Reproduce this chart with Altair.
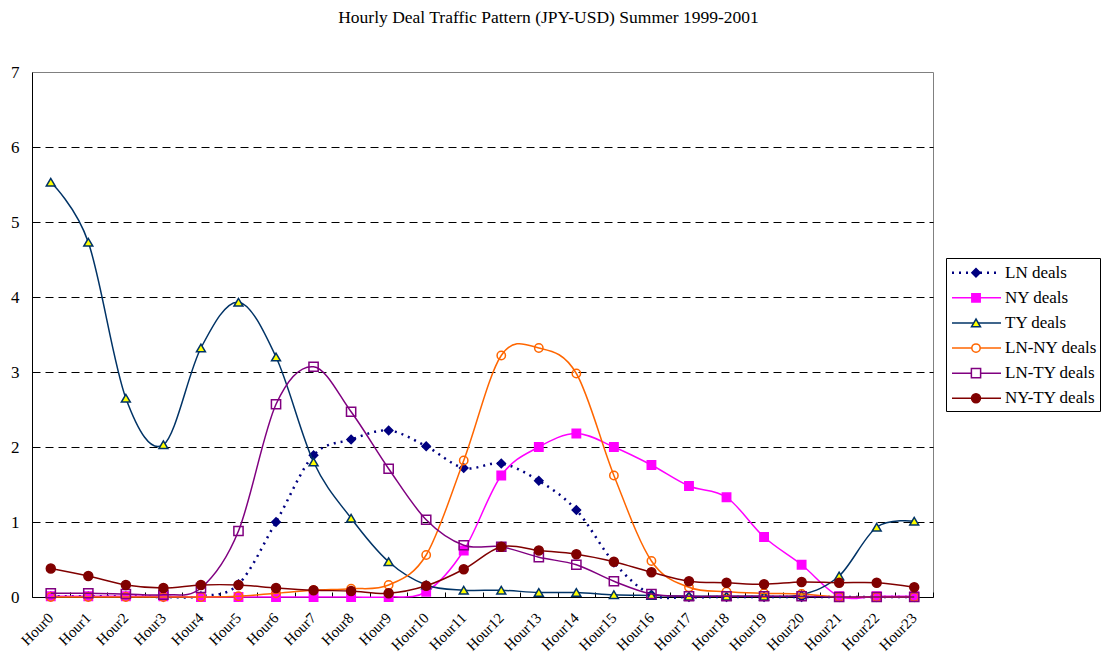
import altair as alt
import pandas as pd

hours = [f"Hour{i}" for i in range(24)]

ln_deals = [0.01, 0.01, 0.01, 0.0, 0.01, 0.17, 1.0, 1.89, 2.1, 2.22, 2.01, 1.72,
            1.78, 1.55, 1.16, 0.46, 0.03, 0.0, 0.0, 0.0, 0.0, 0.0, 0.0, 0.0]
ny_deals = [0.01, 0.01, 0.01, 0.01, 0.0, 0.0, 0.0, 0.0, 0.0, 0.0, 0.07, 0.62,
            1.62, 2.0, 2.18, 2.0, 1.76, 1.48, 1.33, 0.8, 0.43, 0.01, 0.01, 0.01]
ty_deals = [5.53, 4.73, 2.65, 2.03, 3.32, 3.93, 3.2, 1.8, 1.05, 0.47, 0.16, 0.09,
            0.09, 0.06, 0.06, 0.03, 0.02, 0.01, 0.01, 0.01, 0.03, 0.28, 0.93, 1.01]
ln_ny_deals = [0.0, 0.0, 0.0, 0.0, 0.0, 0.01, 0.05, 0.09, 0.11, 0.16, 0.56, 1.82,
               3.22, 3.32, 2.98, 1.62, 0.48, 0.13, 0.07, 0.05, 0.04, 0.0, 0.0, 0.0]
ln_ty_deals = [0.05, 0.05, 0.04, 0.03, 0.12, 0.88, 2.57, 3.07, 2.47, 1.71, 1.03, 0.69,
               0.67, 0.53, 0.43, 0.21, 0.04, 0.01, 0.01, 0.01, 0.01, 0.0, 0.0, 0.0]
ny_ty_deals = [0.38, 0.28, 0.16, 0.12, 0.16, 0.16, 0.12, 0.09, 0.08, 0.05, 0.15, 0.37,
               0.67, 0.62, 0.57, 0.47, 0.33, 0.21, 0.19, 0.17, 0.2, 0.19, 0.19, 0.13]

series_names = ["LN deals", "NY deals", "TY deals", "LN-NY deals", "LN-TY deals", "NY-TY deals"]
series_values = [ln_deals, ny_deals, ty_deals, ln_ny_deals, ln_ty_deals, ny_ty_deals]
y_ticks = [0, 1, 2, 3, 4, 5, 6, 7]
title_text = "Hourly Deal Traffic Pattern (JPY-USD) Summer 1999-2001"

# styles (kept apart from the data)
styles = [
    dict(line="#000080", dash=[2, 5], lw=2.5, shape="diamond", fill="#000080", stroke="#000080", size=70, filled=True),
    dict(line="#FF00FF", dash=None, lw=1.5, shape="square", fill="#FF00FF", stroke="#FF00FF", size=70, filled=True),
    dict(line="#003366", dash=None, lw=1.5, shape="triangle-up", fill="#FFFF00", stroke="#003366", size=80, filled=True),
    dict(line="#FF6600", dash=None, lw=1.5, shape="circle", fill=None, stroke="#FF6600", size=70, filled=False),
    dict(line="#800080", dash=None, lw=1.5, shape="square", fill=None, stroke="#800080", size=85, filled=False),
    dict(line="#800000", dash=None, lw=1.5, shape="circle", fill="#800000", stroke="#800000", size=80, filled=True),
]

FONT = "Liberation Serif"
W, H = 901, 525

rows = []
for name, vals in zip(series_names, series_values):
    for h, v in zip(hours, vals):
        rows.append({"hour": h, "series": name, "value": v})
df = pd.DataFrame(rows)

x_scale = alt.Scale(type="band", domain=hours, paddingInner=0, paddingOuter=0)
y_scale = alt.Scale(domain=[0, 7], nice=False, zero=True)

x_bottom = alt.X("hour:N", sort=hours, scale=x_scale,
                 axis=alt.Axis(orient="bottom", title=None, labelAngle=-45, labelAlign="right",
                               labelBaseline="middle", labelPadding=18, ticks=False, tickSize=0,
                               domainColor="black", domainWidth=1, labelFont=FONT,
                               labelFontSize=15, labelColor="black", grid=False))
y_left = alt.Y("value:Q", scale=y_scale,
               axis=alt.Axis(title=None, values=y_ticks, ticks=False, tickSize=0, labelPadding=13,
                             domainColor="black", domainWidth=1, labelFont=FONT, labelFontSize=17,
                             labelColor="black", grid=True, gridColor="black", gridDash=[8, 5],
                             gridWidth=1,
                             gridOpacity=alt.condition("datum.value > 0 && datum.value < 7",
                                                       alt.value(1), alt.value(0))))

series_layers = []
for name, st in zip(series_names, styles):
    sub = df[df["series"] == name]
    line_kw = dict(interpolate="cardinal", tension=0, color=st["line"], strokeWidth=st["lw"])
    if st["dash"]:
        line_kw["strokeDash"] = st["dash"]
    line = alt.Chart(sub).mark_line(**line_kw).encode(x=x_bottom, y=y_left)
    pt_kw = dict(shape=st["shape"], size=st["size"], stroke=st["stroke"], strokeWidth=1.5,
                 filled=st["filled"], opacity=1)
    if st["fill"]:
        pt_kw["fill"] = st["fill"]
        pt_kw["fillOpacity"] = 1
    pts = alt.Chart(sub).mark_point(**pt_kw).encode(x=x_bottom, y=y_left)
    series_layers += [line, pts]

series_chart = alt.layer(*series_layers)

# inward tick marks at category boundaries
x_top = alt.X("hour:N", sort=hours, scale=x_scale,
              axis=alt.Axis(orient="top", offset=-H, title=None, labels=False, domain=False,
                            ticks=True, tickSize=5, tickColor="black", tickWidth=1,
                            tickBand="extent", grid=False))
tick_layer = alt.Chart(df[df["series"] == series_names[0]]).mark_point(opacity=0).encode(
    x=x_top, y=y_left)

main = alt.layer(series_chart, tick_layer).resolve_axis(x="independent")

# legend
leg_df = pd.DataFrame({"row": list(range(len(series_names))), "label": series_names})
leg_y = alt.Y("row:Q", scale=alt.Scale(domain=[0, 5], range=[200.7, 326.3]), axis=None)

box = alt.Chart(pd.DataFrame({"a": [0]})).mark_rect(fill="white", stroke="black", strokeWidth=1).encode(
    x=alt.value(914.5), x2=alt.value(1068.5), y=alt.value(186.5), y2=alt.value(339.5))
leg_layers = [box]
for i, st in enumerate(styles):
    sub = leg_df[leg_df["row"] == i]
    rkw = dict(color=st["line"], strokeWidth=st["lw"])
    if st["dash"]:
        rkw["strokeDash"] = st["dash"]
    leg_layers.append(alt.Chart(sub).mark_rule(**rkw).encode(
        x=alt.value(920), x2=alt.value(969), y=leg_y))
    pt_kw = dict(shape=st["shape"], size=st["size"], stroke=st["stroke"], strokeWidth=1.5,
                 filled=True, opacity=1, fillOpacity=1, fill=st["fill"] or "white")
    leg_layers.append(alt.Chart(sub).mark_point(**pt_kw).encode(x=alt.value(944), y=leg_y))
leg_layers.append(alt.Chart(leg_df).mark_text(align="left", baseline="middle", font=FONT,
                                              fontSize=17, color="black").encode(
    x=alt.value(973), y=leg_y, text="label:N"))
legend = alt.layer(*leg_layers)

chart = alt.layer(main, legend).resolve_scale(y="independent").properties(
    width=W, height=H,
    autosize=alt.AutoSizeParams(type="none"),
    padding={"left": 24, "top": 64, "right": 168, "bottom": 60},
    title=alt.TitleParams(text=title_text, font=FONT, fontSize=17.5, fontWeight="normal",
                          color="black", anchor="middle", dx=66, offset=37),
    background="white",
).configure_view(stroke="#808080", strokeWidth=1)

chart.save("out.html", embed_options={"renderer": "svg", "actions": False})
